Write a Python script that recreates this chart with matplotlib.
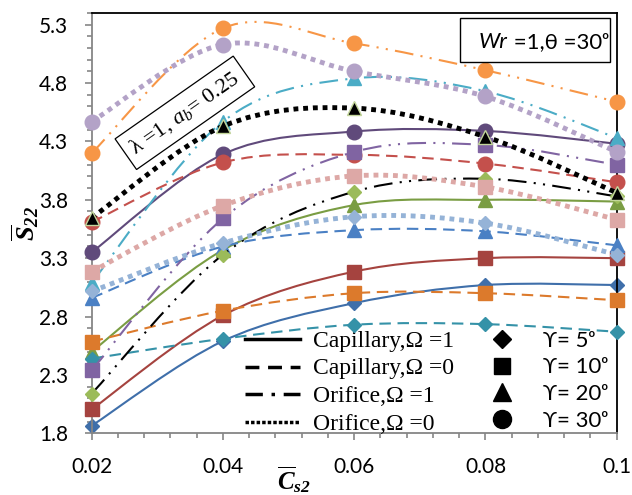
import numpy as np
import matplotlib
matplotlib.use('Agg')
import matplotlib.pyplot as plt
from matplotlib.path import Path
from matplotlib.patches import PathPatch, Rectangle
from matplotlib.lines import Line2D
from matplotlib.offsetbox import TextArea, HPacker, AnchoredOffsetbox
from matplotlib.ticker import MultipleLocator, FixedLocator

plt.rcParams['mathtext.fontset'] = 'custom'
plt.rcParams['mathtext.rm'] = 'Liberation Serif'
plt.rcParams['mathtext.it'] = 'Liberation Serif:italic'
plt.rcParams['mathtext.bf'] = 'Liberation Serif:bold'
try:
    plt.rcParams['mathtext.bfit'] = 'Liberation Serif:bold:italic'
    bfit = r'\mathbfit'
except KeyError:
    bfit = r'\mathbf'

# x values
cs2 = [0.02, 0.04, 0.06, 0.08, 0.1]

# Capillary, Omega = 1 (solid)
cap1_g5 = [1.865, 2.59, 2.915, 3.07, 3.07]
cap1_g10 = [2.005, 2.81, 3.185, 3.30, 3.30]
cap1_g20 = [2.50, 3.37, 3.755, 3.80, 3.785]
cap1_g30 = [3.35, 4.19, 4.385, 4.39, 4.28]

# Capillary, Omega = 0 (dashed)
cap0_g5 = [2.44, 2.61, 2.73, 2.735, 2.67]
cap0_g10 = [2.585, 2.85, 3.0, 3.0, 2.94]
cap0_g20 = [2.96, 3.40, 3.54, 3.53, 3.41]
cap0_g30 = [3.61, 4.12, 4.185, 4.11, 3.95]

# Orifice, Omega = 1 (dash-dot)
ori1_g5 = [2.14, 3.33, 3.87, 3.98, 3.83]
ori1_g10 = [2.34, 3.64, 4.21, 4.27, 4.10]
ori1_g20 = [3.09, 4.47, 4.84, 4.73, 4.33]
ori1_g30 = [4.20, 5.27, 5.14, 4.91, 4.64]

# Orifice, Omega = 0 (dotted)
ori0_g5 = [3.015, 3.43, 3.655, 3.60, 3.33]
ori0_g10 = [3.185, 3.75, 4.005, 3.91, 3.63]
ori0_g20 = [3.645, 4.43, 4.585, 4.34, 3.86]
ori0_g30 = [4.47, 5.13, 4.90, 4.685, 4.21]

line_labels = ['Capillary,Ω =1', 'Capillary,Ω =0', 'Orifice,Ω =1', 'Orifice,Ω =0']
marker_labels = ['ϒ= 5ᵒ', 'ϒ= 10ᵒ', 'ϒ= 20ᵒ', 'ϒ= 30ᵒ']

SOLID = '-'
DASH = (0, (5.5, 3.2))
DDOT = (0, (9, 3.5, 1, 3.5, 1, 3.5))
DOT = (0, (1, 1))

# values, line colour, marker, marker face, marker edge, linestyle, linewidth
series = [
    (cap1_g5, '#3F6FAA', 'D', '#3F6FAA', '#3F6FAA', SOLID, 1.5),
    (cap1_g10, '#A5433F', 's', '#A5433F', '#A5433F', SOLID, 1.5),
    (cap1_g20, '#7A9D43', '^', '#7A9D43', '#7A9D43', SOLID, 1.5),
    (cap1_g30, '#604A7B', 'o', '#604A7B', '#604A7B', SOLID, 1.5),
    (cap0_g5, '#3592A8', 'D', '#3592A8', '#3592A8', DASH, 1.5),
    (cap0_g10, '#DC7A2C', 's', '#DC7A2C', '#DC7A2C', DASH, 1.5),
    (cap0_g20, '#4A80C4', '^', '#4A80C4', '#4A80C4', DASH, 1.5),
    (cap0_g30, '#C4504C', 'o', '#C4504C', '#C4504C', DASH, 1.5),
    (ori1_g5, '#000000', 'D', '#9BBB59', '#9BBB59', DDOT, 1.5),
    (ori1_g10, '#8064A2', 's', '#8064A2', '#8064A2', DDOT, 1.5),
    (ori1_g20, '#4BACC6', '^', '#4BACC6', '#4BACC6', DDOT, 1.5),
    (ori1_g30, '#F79646', 'o', '#F79646', '#F79646', DDOT, 1.5),
    (ori0_g5, '#95B3D7', 'D', '#95B3D7', '#95B3D7', DOT, 3.5),
    (ori0_g10, '#DDA8A6', 's', '#DDA8A6', '#DDA8A6', DOT, 3.5),
    (ori0_g20, '#000000', '^', '#000000', '#C3D69B', DOT, 3.5),
    (ori0_g30, '#B3A2C7', 'o', '#B3A2C7', '#B3A2C7', DOT, 3.5),
]
msizes = {'D': 7.5, 's': 9.5, '^': 10.5, 'o': 10.5}


def smooth_path(xs, ys):
    # Excel-like smoothed line: cubic Bezier through the data points
    pts = np.column_stack([xs, ys])
    n = len(pts)
    verts = [pts[0]]
    codes = [Path.MOVETO]
    for i in range(n - 1):
        p0 = pts[max(i - 1, 0)]
        p1 = pts[i]
        p2 = pts[i + 1]
        p3 = pts[min(i + 2, n - 1)]
        verts += [p1 + (p2 - p0) / 6, p2 - (p3 - p1) / 6, p2]
        codes += [Path.CURVE4] * 3
    return Path(verts, codes)


fig = plt.figure(figsize=(6.32, 4.95), dpi=100)
ax = fig.add_axes([91.7 / 632, 1 - 433.3 / 495, 525 / 632, 420.3 / 495])

z = 2
for vals, col, mk, fc, ec, ls, lw in series:
    patch = PathPatch(smooth_path(cs2, vals), fill=False, edgecolor=col,
                      linewidth=lw, linestyle=ls, zorder=z)
    ax.add_patch(patch)
    ax.plot(cs2, vals, linestyle='none', marker=mk, markersize=msizes[mk],
            markerfacecolor=fc, markeredgecolor=ec, markeredgewidth=1.0,
            zorder=z + 0.5, clip_on=False)
    z += 1

ax.set_xlim(0.02, 0.1)
ax.set_ylim(1.8, 5.4)

ax.xaxis.set_major_locator(FixedLocator(cs2))
ax.set_xticklabels(['0.02', '0.04', '0.06', '0.08', '0.1'])
ax.xaxis.set_minor_locator(MultipleLocator(0.004))
yt = np.arange(1.8, 5.31, 0.5)
ax.yaxis.set_major_locator(FixedLocator(yt))
ax.set_yticklabels(['%.1f' % v for v in yt])
ax.yaxis.set_minor_locator(MultipleLocator(0.1))

for lab in ax.get_xticklabels() + ax.get_yticklabels():
    lab.set_fontfamily('Lato')
    lab.set_fontsize(15)

ax.tick_params(which='both', direction='out', color='#868686', width=1.2,
               top=False, right=False)
ax.tick_params(which='major', length=5, pad=12)
ax.tick_params(which='minor', length=3.5)
ax.spines['left'].set_color('#868686')
ax.spines['bottom'].set_color('#868686')
for s in ['left', 'bottom']:
    ax.spines[s].set_linewidth(1.3)
for s in ['top', 'right']:
    ax.spines[s].set_color('black')
    ax.spines[s].set_linewidth(1.3)

ax.set_xlabel(r'$%s{\overline{C}}_{%s{s2}}$' % (bfit, bfit), fontsize=18)
ax.xaxis.set_label_coords(0.385, -0.074)
ax.set_ylabel(r'$%s{\overline{S}}_{%s{22}}$' % (bfit, bfit), fontsize=19)
ax.yaxis.set_label_coords(-0.095, 0.5)

# legend: line styles (left column) and markers (right column)
handles = [
    Line2D([], [], color='black', lw=2.5, linestyle=SOLID),
    Line2D([], [], color='black', lw=2.5, linestyle=(0, (4, 2.5))),
    Line2D([], [], color='black', lw=2.5, linestyle=(0, (5, 2.5, 1, 2.5))),
    Line2D([], [], color='black', lw=2.5, linestyle=(0, (1, 0.6))),
    Line2D([], [], color='black', linestyle='none', marker='D', markersize=9),
    Line2D([], [], color='black', linestyle='none', marker='s', markersize=12),
    Line2D([], [], color='black', linestyle='none', marker='^', markersize=13),
    Line2D([], [], color='black', linestyle='none', marker='o', markersize=13),
]
leg = ax.legend(handles, line_labels + marker_labels, ncol=2, frameon=False,
                loc='lower left', bbox_to_anchor=(0.27, -0.03),
                handlelength=2.5, handletextpad=0.6, columnspacing=0.9,
                labelspacing=0.3, borderpad=0, fontsize=16)
for i, t in enumerate(leg.get_texts()):
    if i < 4:
        t.set_fontfamily('Liberation Serif')
        t.set_fontsize(17)
    else:
        t.set_fontfamily(['Lato', 'DejaVu Sans'])
        t.set_fontsize(16)

# parameter boxes
ax.text(0.0342, 4.545, r'λ =1, $a_b$= 0.25', family='Liberation Serif',
        fontsize=16, rotation=35, rotation_mode='anchor', ha='center',
        va='center', zorder=30,
        bbox=dict(boxstyle='square,pad=0.35', fc='white', ec='black', lw=0.9))

ax.add_patch(Rectangle((0.7015, 0.8834), 0.2857, 0.1047, transform=ax.transAxes,
                       fc='white', ec='black', lw=1.0, zorder=30))
wr = HPacker(children=[
    TextArea('Wr', textprops=dict(family='Lato', style='italic', size=16)),
    TextArea(' =1,θ =30ᵒ', textprops=dict(family=['Lato', 'DejaVu Sans'], size=16)),
], pad=0, sep=0, align='baseline')
ab = AnchoredOffsetbox(loc='center right', child=wr, pad=0, borderpad=0,
                       frameon=False, bbox_to_anchor=(0.985, 0.93),
                       bbox_transform=ax.transAxes)
ab.set_zorder(31)
ax.add_artist(ab)

fig.savefig('out.png', dpi=100)
